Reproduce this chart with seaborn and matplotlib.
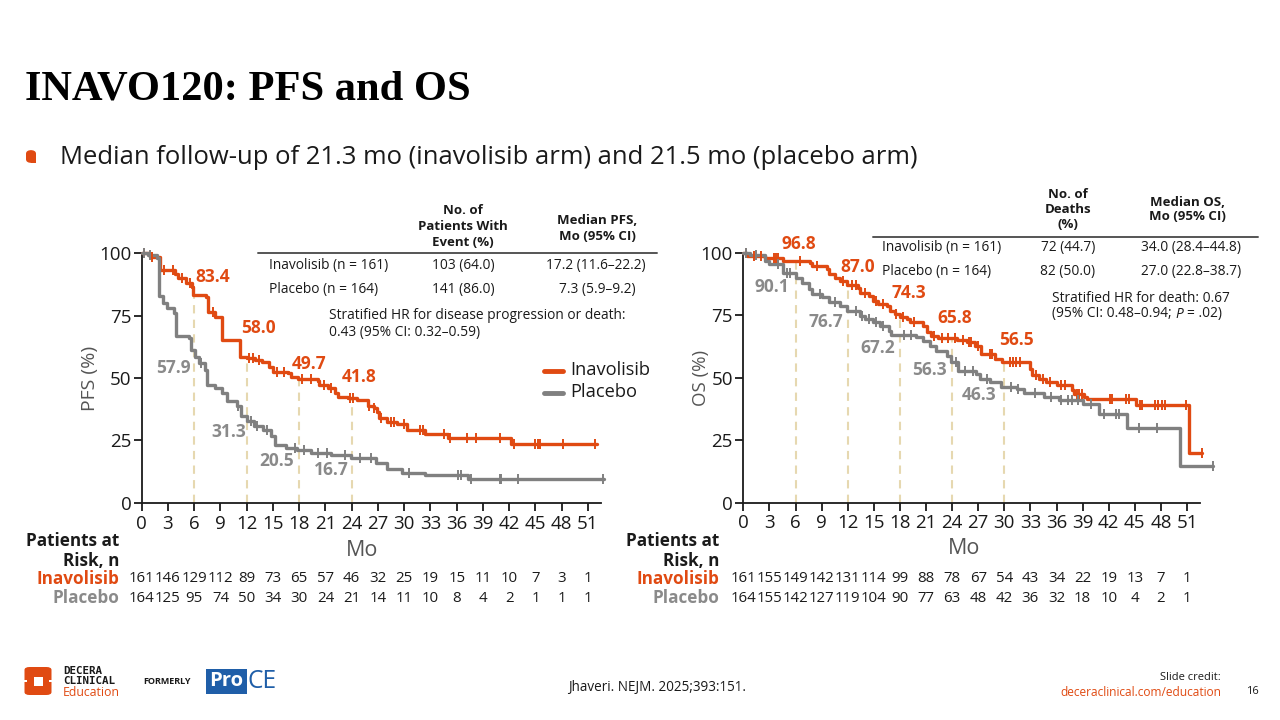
import numpy as np
import pandas as pd
import matplotlib
matplotlib.use('Agg')
import matplotlib.pyplot as plt
import matplotlib.transforms as mtrans
from matplotlib.lines import Line2D
from matplotlib.patches import Rectangle, FancyBboxPatch
import seaborn as sns

# ---------------- data ----------------
XTICKS = list(range(0, 52, 3))
YTICKS = [0, 25, 50, 75, 100]

# PFS - Inavolisib
pfs_ino_t = [0, 0.95, 2.1, 3.8, 4.2, 5.1, 5.7, 5.9, 7.4, 7.6, 8.4, 9.2, 11.2, 12.0, 12.9, 13.7, 14.6, 15.0, 16.7, 17.1,
             17.9, 20.2, 20.3, 21.3, 22.1, 22.4, 23.6, 24.6, 25.9, 26.5, 26.9, 27.1, 28.0, 29.2, 30.3, 32.4, 35.0, 42.2, 52.0]
pfs_ino_s = [100, 98.5, 93.5, 91.5, 90.0, 88.0, 86.5, 83.4, 82.5, 76.6, 74.6, 65.2, 58.5, 58.0, 57.2, 56.3, 54.5, 52.5, 51.9, 50.5,
             49.7, 48.8, 47.2, 45.9, 43.9, 42.5, 41.8, 41.0, 38.7, 38.0, 36.3, 34.0, 32.3, 31.6, 29.3, 27.7, 26.0, 23.6, 23.6]
pfs_ino_cens = [0.3, 1.2, 2.5, 3.6, 4.6, 5.5, 8.2, 12.3, 12.7, 13.4, 15.5, 16.3, 18.3, 19.3, 20.8, 21.6, 23.8, 24.2,
                26.0, 26.6, 27.4, 28.5, 28.8, 30.0, 31.8, 32.2, 34.6, 35.2, 37.2, 38.2, 41.0, 42.6, 44.9, 45.3, 45.5,
                48.2, 51.8]
# PFS - Placebo
pfs_pbo_t = [0, 0.7, 1.8, 2.0, 2.4, 2.9, 3.7, 3.9, 5.4, 5.6, 6.1, 6.6, 7.2, 7.5, 8.4, 9.2, 9.7, 10.9, 11.4, 12.0,
             12.8, 13.9, 14.8, 15.2, 16.5, 17.7, 19.4, 21.6, 23.9, 26.8, 28.0, 29.7, 32.4, 37.3, 52.8]
pfs_pbo_s = [100, 99.3, 98.0, 82.7, 80.0, 78.0, 76.0, 67.0, 66.0, 61.3, 58.5, 56.0, 53.3, 47.3, 46.0, 44.0, 40.7, 38.7, 34.7, 32.7,
             30.7, 29.3, 26.7, 23.3, 22.0, 21.3, 20.0, 19.0, 17.8, 15.8, 13.4, 12.0, 11.1, 9.6, 9.6]
pfs_pbo_cens = [0.3, 1.0, 6.8, 11.0, 12.5, 13.2, 14.3, 17.5, 18.6, 20.1, 21.2, 23.2, 25.0, 26.2, 30.6, 36.2, 36.5,
                37.6, 40.9, 41.1, 43.0, 52.7]

# OS - Inavolisib
os_ino_t = [0, 0.4, 2.5, 4.6, 7.7, 7.9, 9.6, 9.8, 10.5, 11.1, 11.9, 13.2, 13.4, 14.4, 14.9, 15.5, 16.5, 16.9, 17.4, 18.0,
            18.8, 19.2, 20.7, 21.1, 21.6, 22.4, 24.6, 25.7, 26.6, 27.3, 28.9, 29.7, 32.9, 33.2, 34.0, 34.8, 36.1, 37.8,
            38.0, 39.2, 39.5, 45.1, 51.2, 52.7]
os_ino_s = [100, 98.9, 98.2, 96.9, 96.0, 94.9, 93.6, 91.6, 90.2, 88.9, 87.2, 86.2, 84.2, 82.9, 80.9, 79.5, 78.9, 76.9, 75.5, 74.3,
            73.5, 72.2, 70.9, 68.2, 66.8, 65.8, 65.0, 64.2, 62.8, 59.7, 57.7, 56.5, 53.7, 51.0, 49.7, 48.4, 47.0, 45.0,
            43.6, 42.3, 41.6, 39.0, 19.8, 19.8]
os_ino_cens = [0.3, 1.2, 2.0, 3.5, 3.8, 4.0, 6.5, 8.5, 11.5, 12.5, 13.0, 14.0, 15.2, 16.0, 17.6, 18.4, 19.6, 21.9, 22.8,
               23.5, 24.3, 25.3, 25.9, 26.2, 27.0, 28.3, 28.6, 30.6, 31.0, 31.4, 31.8, 33.6, 34.4, 35.2, 36.5, 37.0,
               38.3, 38.6, 38.9, 42.2, 42.4, 44.0, 44.3, 45.6, 45.8, 47.3, 47.7, 48.1, 48.5, 50.9, 52.7]
# OS - Placebo
os_pbo_t = [0, 0.8, 2.5, 2.9, 4.6, 6.0, 6.7, 7.5, 7.9, 9.0, 9.8, 11.1, 11.9, 13.4, 14.0, 14.9, 15.7, 16.7, 17.0, 19.9,
            20.7, 21.5, 22.2, 23.4, 23.9, 24.7, 26.8, 27.2, 28.3, 29.6, 31.5, 32.3, 34.6, 36.3, 39.0, 40.9, 44.1, 50.2, 54.0]
os_pbo_s = [100, 99.2, 96.9, 95.6, 92.2, 90.1, 88.2, 85.6, 83.6, 82.2, 80.2, 78.9, 76.7, 74.9, 73.5, 72.2, 70.9, 68.9, 67.2, 66.2,
            64.8, 62.8, 60.8, 58.8, 56.3, 52.8, 51.5, 49.5, 48.3, 46.3, 45.6, 43.9, 42.3, 41.0, 39.6, 35.6, 29.9, 14.8, 14.8]
os_pbo_cens = [0.3, 1.5, 4.0, 5.0, 5.4, 8.8, 10.5, 13.0, 13.6, 14.4, 15.2, 16.0, 18.5, 19.3, 24.5, 25.5, 26.4, 28.0,
               30.8, 31.6, 33.5, 35.4, 36.5, 37.3, 37.8, 38.5, 40.0, 41.5, 42.8, 43.2, 45.5, 47.5, 54.0]

# landmark values
pfs_lm_t = [6, 12, 18, 24]
pfs_lm_ino = [83.4, 58.0, 49.7, 41.8]
pfs_lm_pbo = [57.9, 31.3, 20.5, 16.7]
os_lm_t = [6, 12, 18, 24, 30]
os_lm_ino = [96.8, 87.0, 74.3, 65.8, 56.5]
os_lm_pbo = [90.1, 76.7, 67.2, 56.3, 46.3]

# patients at risk
pfs_risk_ino = [161, 146, 129, 112, 89, 73, 65, 57, 46, 32, 25, 19, 15, 11, 10, 7, 3, 1]
pfs_risk_pbo = [164, 125, 95, 74, 50, 34, 30, 24, 21, 14, 11, 10, 8, 4, 2, 1, 1, 1]
os_risk_ino = [161, 155, 149, 142, 131, 114, 99, 88, 78, 67, 54, 43, 34, 22, 19, 13, 7, 1]
os_risk_pbo = [164, 155, 142, 127, 119, 104, 90, 77, 63, 48, 42, 36, 32, 18, 10, 4, 2, 1]

# ---------------- layout / style ----------------
ORANGE = '#E04A12'
GRAY = '#808080'
GRAYTXT = '#8a8a8a'
DASH = '#e6d8b0'
DARK = '#1a1a1a'
FONT = ['Open Sans', 'DejaVu Sans']

# label positions (data coords) for landmark numbers
pfs_pos_ino = [(8.1, 90.6), (13.3, 70.0), (19.1, 55.6), (24.8, 50.5)]
pfs_pos_pbo = [(3.6, 54.1), (9.9, 28.4), (15.4, 16.8), (21.7, 13.1)]
os_pos_ino = [(6.4, 103.6), (13.1, 94.5), (19.0, 83.9), (24.3, 73.9), (31.4, 65.2)]
os_pos_pbo = [(3.3, 86.5), (9.5, 72.5), (15.5, 61.8), (21.4, 53.1), (27.1, 43.1)]

sns.set_theme(style='white')
plt.rcParams['font.family'] = FONT
plt.rcParams['axes.unicode_minus'] = False

fig = plt.figure(figsize=(12.8, 7.2), dpi=100)
fig.patch.set_facecolor('white')
renderer = fig.canvas.get_renderer()


def FX(x):
    return x / 1280.0


def FY(y):
    return 1.0 - y / 720.0


def size_for(s, width, **kw):
    t = fig.text(0, 0, s, fontsize=20, **kw)
    w = t.get_window_extent(renderer).width
    t.remove()
    return 20.0 * width / w


def put(x, y, s, size, **kw):
    kw.setdefault('va', 'center')
    return fig.text(FX(x), FY(y), s, fontsize=size, **kw)


def setup_axes(ax):
    ax.set_xlim(0, 55)
    ax.set_ylim(0, 100)
    ax.set_facecolor('none')
    ax.grid(False)
    for sp in ['top', 'right']:
        ax.spines[sp].set_visible(False)
    for sp in ['left', 'bottom']:
        ax.spines[sp].set_visible(True)
        ax.spines[sp].set_color(DARK)
        ax.spines[sp].set_linewidth(1.3)
    ax.spines['bottom'].set_bounds(0, 52.5)
    ax.set_xticks(XTICKS)
    ax.set_yticks(YTICKS)
    ax.tick_params(axis='both', direction='out', length=6, width=1.3, color=DARK,
                   labelsize=13.5, labelcolor=DARK, left=True, bottom=True)
    ax.tick_params(axis='y', pad=1.5)
    ax.tick_params(axis='x', pad=2.5)
    ax.set_xlabel('')
    ax.set_ylabel('')


def km(ax, t, s, cens, color):
    df = pd.DataFrame({'t': t, 's': s})
    sns.lineplot(data=df, x='t', y='s', ax=ax, drawstyle='steps-post', color=color, lw=2.4,
                 estimator=None, sort=False, legend=False, clip_on=False, zorder=3)
    ct = np.asarray(cens, dtype=float)
    idx = np.searchsorted(np.asarray(t), ct, side='right') - 1
    cy = np.asarray(s)[idx]
    ax.plot(ct, cy, ls='none', marker='|', ms=7, mew=1.4, color=color, clip_on=False, zorder=4)


def landmarks(ax, lm_t, v_ino, v_pbo, pos_ino, pos_pbo):
    ax.vlines(lm_t, 0, [max(a, b) for a, b in zip(v_ino, v_pbo)], colors=DASH,
              linestyles=(0, (4, 3)), lw=1.5, zorder=1)
    for v, (x, y) in zip(v_ino, pos_ino):
        ax.text(x, y, f'{v:.1f}', color=ORANGE, fontsize=12.5, fontweight='bold', ha='center', va='center')
    for v, (x, y) in zip(v_pbo, pos_pbo):
        ax.text(x, y, f'{v:.1f}', color=GRAYTXT, fontsize=12.5, fontweight='bold', ha='center', va='center')


def risk_table(ax, r_ino, r_pbo, label_x):
    tr = mtrans.blended_transform_factory(ax.transData, fig.transFigure)
    for t, a, b in zip(XTICKS, r_ino, r_pbo):
        ax.text(t, FY(579), str(a), transform=tr, ha='center', va='center', fontsize=10.8, color=DARK)
        ax.text(t, FY(598), str(b), transform=tr, ha='center', va='center', fontsize=10.8, color=DARK)
    s_b = size_for('Patients at', 93, fontweight='bold')
    put(label_x, 541, 'Patients at', s_b, ha='right', fontweight='bold', color=DARK)
    put(label_x, 561, 'Risk, n', s_b, ha='right', fontweight='bold', color=DARK)
    put(label_x, 579, 'Inavolisib', s_b, ha='right', fontweight='bold', color=ORANGE)
    put(label_x, 598, 'Placebo', s_b, ha='right', fontweight='bold', color=GRAYTXT)


# ---------------- axes ----------------
axL = fig.add_axes([FX(141.7), FY(502.7), 55 * 8.75 / 1280, 249.4 / 720])
axR = fig.add_axes([FX(743.3), FY(502.5), 55 * 8.7 / 1280, 249.4 / 720])

km(axL, pfs_ino_t, pfs_ino_s, pfs_ino_cens, ORANGE)
km(axL, pfs_pbo_t, pfs_pbo_s, pfs_pbo_cens, GRAY)
km(axR, os_ino_t, os_ino_s, os_ino_cens, ORANGE)
km(axR, os_pbo_t, os_pbo_s, os_pbo_cens, GRAY)
setup_axes(axL)
setup_axes(axR)
landmarks(axL, pfs_lm_t, pfs_lm_ino, pfs_lm_pbo, pfs_pos_ino, pfs_pos_pbo)
landmarks(axR, os_lm_t, os_lm_ino, os_lm_pbo, os_pos_ino, os_pos_pbo)

put(90, 378, 'PFS (%)', 14, ha='center', rotation=90, color='#555555')
put(701, 378, 'OS (%)', 13.5, ha='center', rotation=90, color='#555555')
put(362, 550, 'Mo', 15.5, ha='center', color='#555555')
put(964, 549, 'Mo', 15.5, ha='center', color='#555555')

risk_table(axL, pfs_risk_ino, pfs_risk_pbo, 119)
risk_table(axR, os_risk_ino, os_risk_pbo, 719)

# legend
s_leg = size_for('Inavolisib', 80)
fig.add_artist(Line2D([FX(544), FX(563)], [FY(371), FY(371)], color=ORANGE, lw=3.5))
fig.add_artist(Line2D([FX(544), FX(563)], [FY(393), FY(393)], color=GRAY, lw=3.5))
put(570, 370, 'Inavolisib', s_leg, ha='left', color=DARK)
put(570, 392, 'Placebo', s_leg, ha='left', color=DARK)

# ---------------- header tables ----------------
s_row = size_for('Inavolisib (n = 161)', 119)
s_hdr = size_for('Patients With', 90, fontweight='bold')
put(463, 226, 'No. of\nPatients With\nEvent (%)', s_hdr, ha='center', fontweight='bold', color=DARK,
    linespacing=1.3, multialignment='center')
put(597, 228, 'Median PFS,\nMo (95% CI)', s_hdr, ha='center', fontweight='bold', color=DARK,
    linespacing=1.3, multialignment='center')
fig.add_artist(Line2D([FX(258), FX(657)], [FY(253), FY(253)], color='#555555', lw=1.4))
put(269, 265, 'Inavolisib (n = 161)', s_row, ha='left', color=DARK)
put(463, 265, '103 (64.0)', s_row, ha='center', color=DARK)
put(596, 265, '17.2 (11.6–22.2)', s_row, ha='center', color=DARK)
put(269, 290, 'Placebo (n = 164)', s_row, ha='left', color=DARK)
put(463, 290, '141 (86.0)', s_row, ha='center', color=DARK)
put(597, 290, '7.3 (5.9–9.2)', s_row, ha='center', color=DARK)
put(329, 324, 'Stratified HR for disease progression or death:\n0.43 (95% CI: 0.32–0.59)', s_row,
    ha='left', color=DARK, linespacing=1.2)

put(1068, 209, 'No. of\nDeaths\n(%)', s_hdr, ha='center', fontweight='bold', color=DARK,
    linespacing=1.2, multialignment='center')
put(1187, 209.5, 'Median OS,\nMo (95% CI)', s_hdr, ha='center', fontweight='bold', color=DARK,
    linespacing=1.2, multialignment='center')
fig.add_artist(Line2D([FX(873), FX(1258)], [FY(237), FY(237)], color='#555555', lw=1.4))
put(882, 247, 'Inavolisib (n = 161)', s_row, ha='left', color=DARK)
put(1068, 247, '72 (44.7)', s_row, ha='center', color=DARK)
put(1191, 247, '34.0 (28.4–44.8)', s_row, ha='center', color=DARK)
put(882, 271, 'Placebo (n = 164)', s_row, ha='left', color=DARK)
put(1068, 271, '82 (50.0)', s_row, ha='center', color=DARK)
put(1191, 271, '27.0 (22.8–38.7)', s_row, ha='center', color=DARK)
put(1052, 298, 'Stratified HR for death: 0.67', s_row, ha='left', color=DARK)
t1 = put(1052, 314, '(95% CI: 0.48–0.94;', s_row, ha='left', color=DARK)
w1 = t1.get_window_extent(renderer).width
tmp1 = fig.text(0, 0, 'a a', fontsize=s_row)
tmp2 = fig.text(0, 0, 'aa', fontsize=s_row)
wsp = tmp1.get_window_extent(renderer).width - tmp2.get_window_extent(renderer).width
tmp1.remove()
tmp2.remove()
t2 = put(1052 + w1 + wsp, 314, 'P', s_row, ha='left', color=DARK, style='italic')
w2 = t2.get_window_extent(renderer).width
put(1052 + w1 + wsp + w2 + wsp, 314, '= .02)', s_row, ha='left', color=DARK)

# ---------------- title & bullet ----------------
s_title = size_for('INAVO120: PFS and OS', 446, family='Liberation Serif', fontweight='bold')
fig.text(FX(25), FY(100), 'INAVO120: PFS and OS', fontsize=s_title, family='Liberation Serif',
         fontweight='bold', color='black', ha='left', va='baseline')
s_sub = size_for('Median follow-up of 21.3 mo (inavolisib arm) and 21.5 mo (placebo arm)', 858)
put(60, 157, 'Median follow-up of 21.3 mo (inavolisib arm) and 21.5 mo (placebo arm)', s_sub,
    ha='left', color=DARK)
fig.add_artist(FancyBboxPatch((FX(26), FY(163)), FX(10), 13 / 720, boxstyle='round,pad=0,rounding_size=0.005',
                              transform=fig.transFigure, facecolor=ORANGE, edgecolor='none'))
fig.add_artist(Rectangle((FX(31), FY(163)), FX(5), 7 / 720, transform=fig.transFigure,
                         facecolor=ORANGE, edgecolor='none'))

# ---------------- footer ----------------
fig.add_artist(FancyBboxPatch((FX(24.5), FY(695)), FX(27), 28 / 720,
                              boxstyle='round,pad=0,rounding_size=0.004', transform=fig.transFigure,
                              facecolor=ORANGE, edgecolor='none'))
fig.add_artist(Rectangle((FX(33.5), FY(686)), FX(9.5), 9.5 / 720, transform=fig.transFigure,
                         facecolor='white', edgecolor='none'))
fig.add_artist(Rectangle((FX(24), FY(681.5)), FX(3), 1.5 / 720, transform=fig.transFigure,
                         facecolor='white', edgecolor='none'))
fig.add_artist(Rectangle((FX(49), FY(681.5)), FX(3), 1.5 / 720, transform=fig.transFigure,
                         facecolor='white', edgecolor='none'))
put(63, 670.5, 'DECERA', 7.8, ha='left', family='DejaVu Sans Mono', fontweight='bold', color=DARK)
put(63, 681.5, 'CLINICAL', 7.8, ha='left', family='DejaVu Sans Mono', fontweight='bold', color=DARK)
put(63, 692.5, 'Education', size_for('Education', 57), ha='left', color=ORANGE)
put(143, 681.5, 'FORMERLY', size_for('FORMERLY', 48, fontweight='bold'), ha='left', fontweight='bold', color=DARK)
fig.add_artist(Rectangle((FX(206), FY(694)), FX(40.5), 25 / 720, transform=fig.transFigure,
                         facecolor='#1f5ea8', edgecolor='none'))
put(226, 681.5, 'Pro', size_for('Pro', 34, fontweight='bold'), ha='center', color='white', fontweight='bold')
put(247.5, 681.5, 'CE', size_for('CE', 29), ha='left', color='#1f5ea8')

put(657, 688, 'Jhaveri. NEJM. 2025;393:151.', size_for('Jhaveri. NEJM. 2025;393:151.', 178), ha='center', color=DARK)
put(1221, 678, 'Slide credit:', size_for('Slide credit:', 60), ha='right', color=DARK)
put(1221, 692, 'deceraclinical.com/education', size_for('deceraclinical.com/education', 161), ha='right', color=ORANGE)
put(1252, 691, '16', size_for('Slide credit:', 60), ha='center', color=DARK)

fig.savefig('out.png', dpi=100, facecolor='white')
